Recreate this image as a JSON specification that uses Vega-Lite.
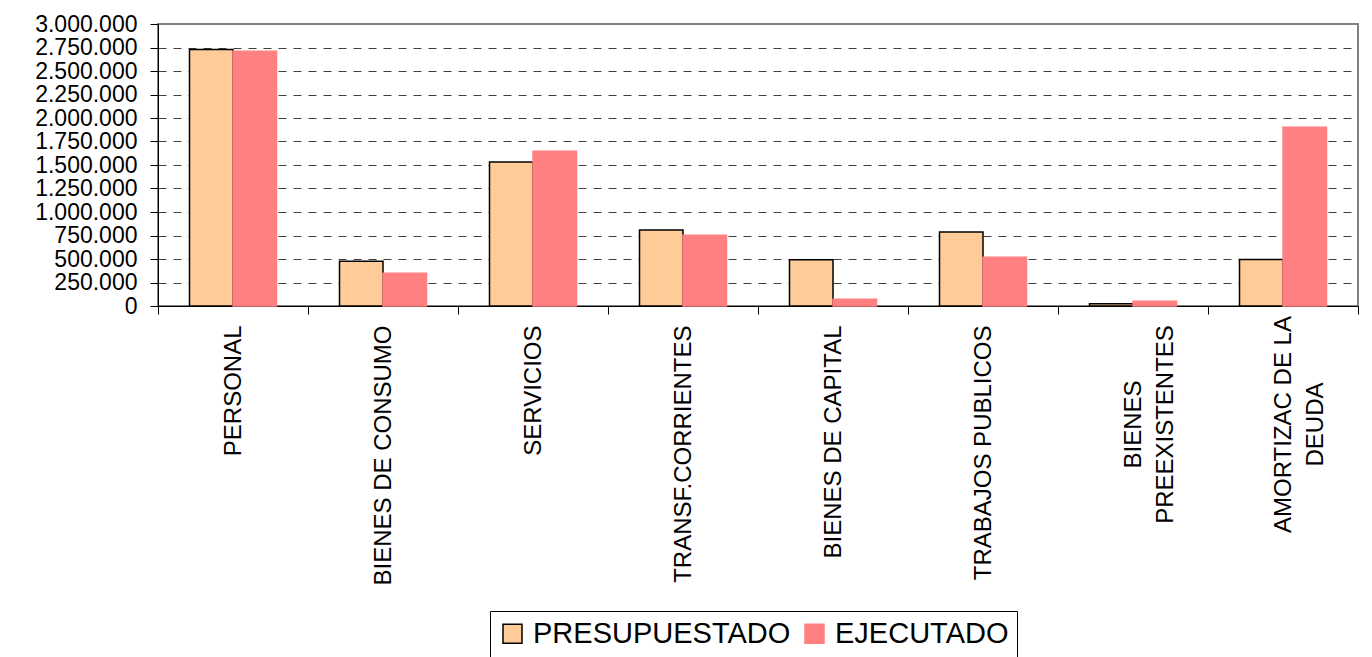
{
  "$schema": "https://vega.github.io/schema/vega-lite/v6.json",
  "width": 1200,
  "height": 282,
  "autosize": {"type": "none"},
  "padding": {"left": 158, "top": 24, "right": 14, "bottom": 351},
  "background": "white",
  "data": {
    "values": [
      {"categoria": "PERSONAL", "serie": "PRESUPUESTADO", "monto": 2730000},
      {"categoria": "PERSONAL", "serie": "EJECUTADO", "monto": 2710000},
      {"categoria": "BIENES DE CONSUMO", "serie": "PRESUPUESTADO", "monto": 475000},
      {"categoria": "BIENES DE CONSUMO", "serie": "EJECUTADO", "monto": 348000},
      {"categoria": "SERVICIOS", "serie": "PRESUPUESTADO", "monto": 1532000},
      {"categoria": "SERVICIOS", "serie": "EJECUTADO", "monto": 1646000},
      {"categoria": "TRANSF.CORRIENTES", "serie": "PRESUPUESTADO", "monto": 808000},
      {"categoria": "TRANSF.CORRIENTES", "serie": "EJECUTADO", "monto": 752000},
      {"categoria": "BIENES DE CAPITAL", "serie": "PRESUPUESTADO", "monto": 493000},
      {"categoria": "BIENES DE CAPITAL", "serie": "EJECUTADO", "monto": 71000},
      {"categoria": "TRABAJOS PUBLICOS", "serie": "PRESUPUESTADO", "monto": 787000},
      {"categoria": "TRABAJOS PUBLICOS", "serie": "EJECUTADO", "monto": 518000},
      {"categoria": "BIENES PREEXISTENTES", "serie": "PRESUPUESTADO", "monto": 25000},
      {"categoria": "BIENES PREEXISTENTES", "serie": "EJECUTADO", "monto": 50000},
      {"categoria": "AMORTIZAC DE LA DEUDA", "serie": "PRESUPUESTADO", "monto": 495000},
      {"categoria": "AMORTIZAC DE LA DEUDA", "serie": "EJECUTADO", "monto": 1901000}
    ]
  },
  "mark": {"type": "bar", "strokeWidth": 1.5},
  "encoding": {
    "x": {
      "field": "categoria",
      "type": "nominal",
      "sort": null,
      "scale": {"paddingInner": 0, "paddingOuter": 0},
      "axis": {
        "title": null,
        "tickBand": "extent",
        "tickSize": 8,
        "tickColor": "#000000",
        "domainColor": "#000000",
        "labelAngle": -90,
        "labelAlign": {"condition": {"test": "datum.value == 'BIENES PREEXISTENTES' || datum.value == 'AMORTIZAC DE LA DEUDA'", "value": "center"}, "value": "right"},
        "labelPadding": {"condition": {"test": "datum.value == 'BIENES PREEXISTENTES' || datum.value == 'AMORTIZAC DE LA DEUDA'", "value": 110}, "value": 11},
        "labelBaseline": "middle",
        "labelFont": "Liberation Sans",
        "labelFontSize": 24,
        "labelColor": "#000000",
        "labelLineHeight": 32,
        "labelLimit": 0,
        "labelOverlap": false,
        "labelExpr": "datum.value == 'BIENES PREEXISTENTES' ? ['BIENES', 'PREEXISTENTES'] : datum.value == 'AMORTIZAC DE LA DEUDA' ? ['AMORTIZAC DE LA', 'DEUDA'] : datum.value",
        "grid": false
      }
    },
    "xOffset": {
      "field": "serie",
      "type": "nominal",
      "scale": {"domain": ["PRESUPUESTADO", "EJECUTADO"], "paddingInner": 0, "paddingOuter": 0.724}
    },
    "y": {
      "field": "monto",
      "type": "quantitative",
      "scale": {"domain": [0, 3000000], "nice": false},
      "axis": {
        "title": null,
        "values": [0, 250000, 500000, 750000, 1000000, 1250000, 1500000, 1750000, 2000000, 2250000, 2500000, 2750000, 3000000],
        "format": ",.0f",
        "tickSize": 8,
        "tickColor": "#000000",
        "domainColor": "#000000",
        "labelPadding": 13,
        "labelFont": "Liberation Sans",
        "labelFontSize": 23,
        "labelColor": "#000000",
        "labelOverlap": false,
        "grid": true,
        "gridColor": "#404040",
        "gridDash": [8, 7],
        "gridWidth": 1,
        "gridOpacity": {"condition": {"test": "datum.value == 0 || datum.value == 3000000", "value": 0}, "value": 1}
      }
    },
    "fill": {
      "field": "serie",
      "type": "nominal",
      "scale": {"domain": ["PRESUPUESTADO", "EJECUTADO"], "range": ["#FFCC99", "#FF8080"]},
      "legend": {
        "title": null,
        "orient": "none",
        "legendX": 332,
        "legendY": 587,
        "direction": "horizontal",
        "strokeColor": "#000000",
        "padding": 8,
        "symbolType": "square",
        "symbolSize": 361,
        "symbolStrokeWidth": 1.5,
        "symbolOpacity": 1,
        "labelFont": "Liberation Sans",
        "labelFontSize": 29,
        "labelColor": "#000000",
        "labelOffset": 6,
        "columnPadding": 9,
        "labelLimit": 0
      }
    },
    "stroke": {
      "field": "serie",
      "type": "nominal",
      "scale": {"domain": ["PRESUPUESTADO", "EJECUTADO"], "range": ["#000000", "#FF8080"]},
      "legend": {
        "title": null,
        "orient": "none",
        "legendX": 332,
        "legendY": 587,
        "direction": "horizontal",
        "strokeColor": "#000000",
        "padding": 8,
        "symbolType": "square",
        "symbolSize": 361,
        "symbolStrokeWidth": 1.5,
        "labelFont": "Liberation Sans",
        "labelFontSize": 29,
        "labelColor": "#000000",
        "labelOffset": 6,
        "columnPadding": 9,
        "labelLimit": 0
      }
    }
  },
  "config": {
    "locale": {"number": {"decimal": ",", "thousands": ".", "grouping": [3], "currency": ["$", ""]}},
    "view": {"stroke": "#808080", "strokeWidth": 2},
    "font": "Liberation Sans"
  }
}
